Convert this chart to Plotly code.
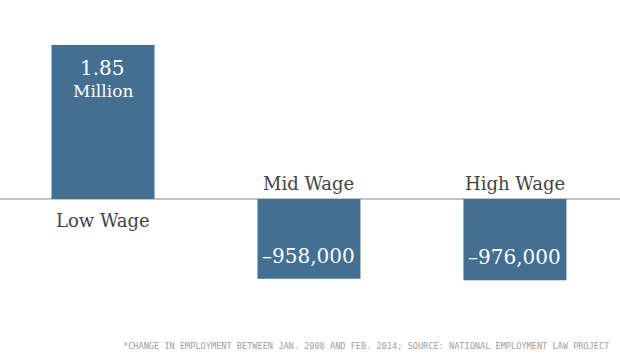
import plotly.graph_objects as go

categories = ["Low Wage", "Mid Wage", "High Wage"]
values = [1850000, -958000, -976000]
value_labels = ["1.85", "–958,000", "–976,000"]
footnote = "*CHANGE IN EMPLOYMENT BETWEEN JAN. 2008 AND FEB. 2014; SOURCE: NATIONAL EMPLOYMENT LAW PROJECT"

BAR = "#436f93"
TXT = "#444444"
SERIF = "DejaVu Serif"

x = list(range(len(categories)))
fig = go.Figure(go.Bar(x=x, y=values, width=0.5, marker=dict(color=BAR, line=dict(width=0)),
                       hoverinfo="skip"))

ann = []
for i, (c, v, lab) in enumerate(zip(categories, values, value_labels)):
    if v > 0:
        ann.append(dict(x=i, y=0, text=c, showarrow=False, yshift=-21,
                        font=dict(family=SERIF, size=18, color=TXT)))
        ann.append(dict(x=i, y=v, text=lab, showarrow=False, yshift=-23,
                        font=dict(family=SERIF, size=20, color="white")))
        ann.append(dict(x=i, y=v, text="Million", showarrow=False, yshift=-46,
                        font=dict(family=SERIF, size=17, color="white")))
    else:
        ann.append(dict(x=i, y=0, text=c, showarrow=False, yshift=16,
                        font=dict(family=SERIF, size=18, color=TXT)))
        ann.append(dict(x=i, y=v, text=lab, showarrow=False, yshift=23,
                        font=dict(family=SERIF, size=20, color="white")))

ann.append(dict(xref="paper", yref="paper", x=0.985, y=0.005, xanchor="right", yanchor="bottom",
                text=footnote, showarrow=False,
                font=dict(family="DejaVu Sans Mono", size=8.6, color="#a0a0a0")))

fig.update_layout(
    width=620, height=355,
    margin=dict(l=0, r=0, t=0, b=0),
    paper_bgcolor="white", plot_bgcolor="white",
    showlegend=False,
    xaxis=dict(range=[-0.5, 2.51], visible=False, fixedrange=True),
    yaxis=dict(range=[-1874000, 2391000], visible=False, fixedrange=True),
    annotations=ann,
    shapes=[dict(type="line", xref="paper", yref="y", x0=0, x1=1, y0=0, y1=0,
                 line=dict(color="#b0b0b0", width=1.5), layer="below")],
)

fig.write_html("out.html", config={"displayModeBar": False},
               post_script="document.body.style.margin='0';document.body.style.overflow='hidden';")
